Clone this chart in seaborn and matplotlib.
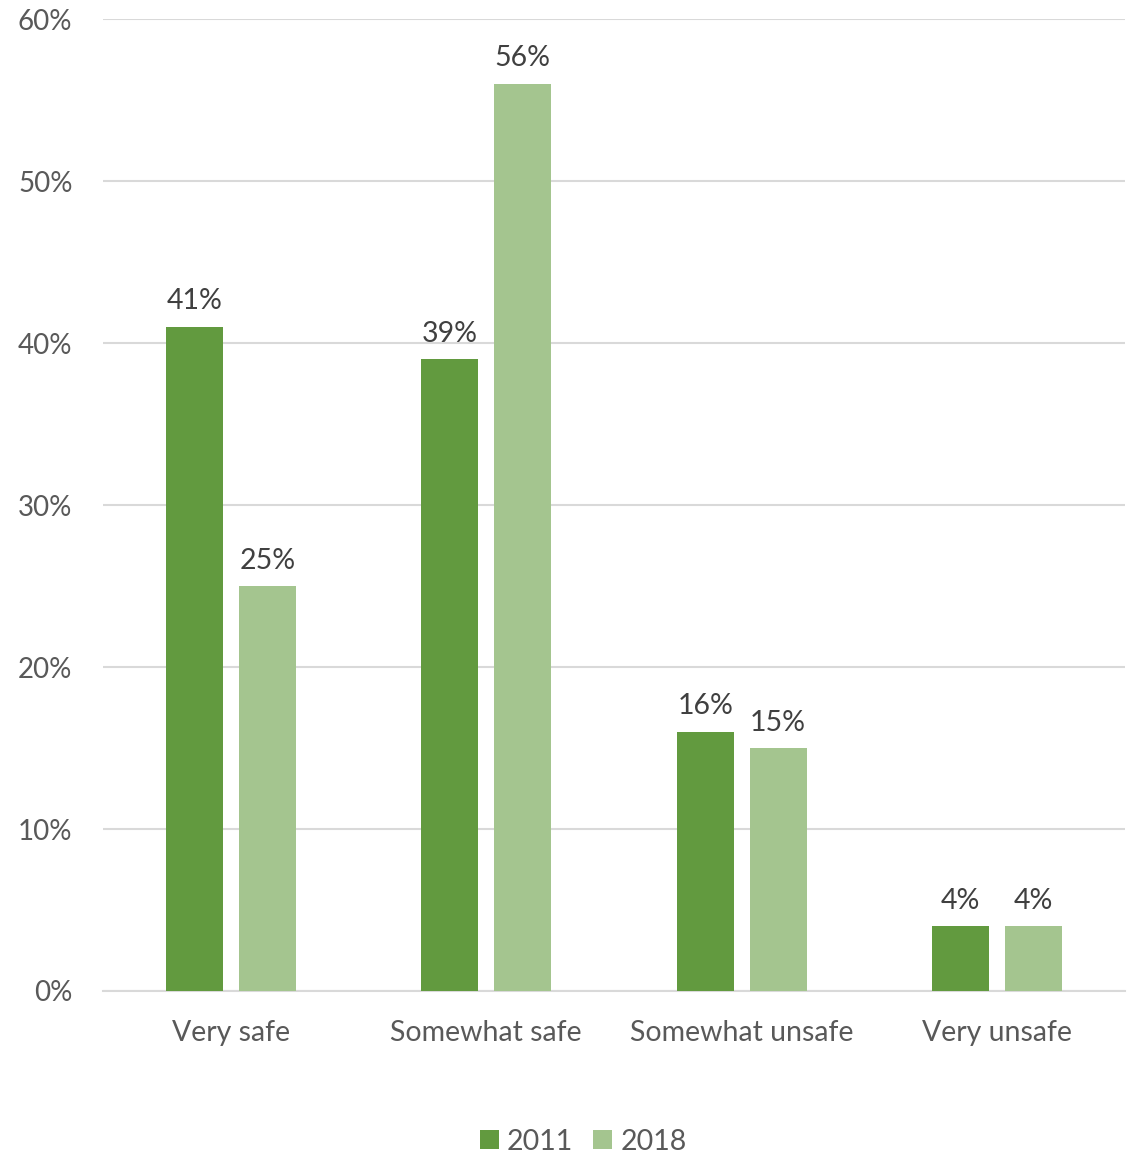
import pandas as pd
import matplotlib
matplotlib.use("Agg")
import matplotlib.pyplot as plt
import seaborn as sns

categories = ["Very safe", "Somewhat safe", "Somewhat unsafe", "Very unsafe"]
values_2011 = [41, 39, 16, 4]
values_2018 = [25, 56, 15, 4]
years = ["2011", "2018"]
colors = ["#629A3F", "#A4C58F"]
yticks = [0, 10, 20, 30, 40, 50, 60]


def make_chart():
    df = pd.DataFrame({
        "category": categories * 2,
        "year": [years[0]] * 4 + [years[1]] * 4,
        "value": values_2011 + values_2018,
    })

    sns.set_style("white")
    plt.rcParams["font.family"] = ["Lato", "DejaVu Sans"]

    fig = plt.figure(figsize=(11.37, 11.55), dpi=100)
    ax = fig.add_axes([0.0906, 0.142, 0.8988, 0.8415])

    sns.barplot(data=df, x="category", y="value", hue="year", order=categories,
                hue_order=years, palette=colors, width=0.571, gap=0.22,
                saturation=1, linewidth=0, ax=ax, zorder=3)

    ax.set_ylim(0, 60)
    ax.set_xlim(-0.5, 3.5)
    ax.set_yticks(yticks)
    ax.set_yticklabels([f"{t}%" for t in yticks])
    ax.yaxis.grid(True, color="#D9D9D9", linewidth=1.5, zorder=0)
    ax.set_axisbelow(True)
    for s in ["left", "right", "top"]:
        ax.spines[s].set_visible(False)
    ax.spines["bottom"].set_color("#D9D9D9")
    ax.spines["bottom"].set_linewidth(1.5)
    ax.tick_params(axis="y", length=0, pad=22, labelsize=20, labelcolor="#595959")
    ax.tick_params(axis="x", length=0, pad=21, labelsize=20.5, labelcolor="#595959")
    ax.set_xlabel("")
    ax.set_ylabel("")

    for cont in ax.containers:
        ax.bar_label(cont, labels=[f"{v:.0f}%" for v in cont.datavalues],
                     padding=9, fontsize=20.5, color="#404040")

    ax.legend(loc="center", bbox_to_anchor=(0.47, -0.155), ncol=2, frameon=False,
              fontsize=20.5, handlelength=0.65, handleheight=0.65,
              handletextpad=0.3, columnspacing=0.7, labelcolor="#595959")

    fig.savefig("out.png", dpi=100)
    plt.close(fig)


if __name__ == "__main__":
    make_chart()
